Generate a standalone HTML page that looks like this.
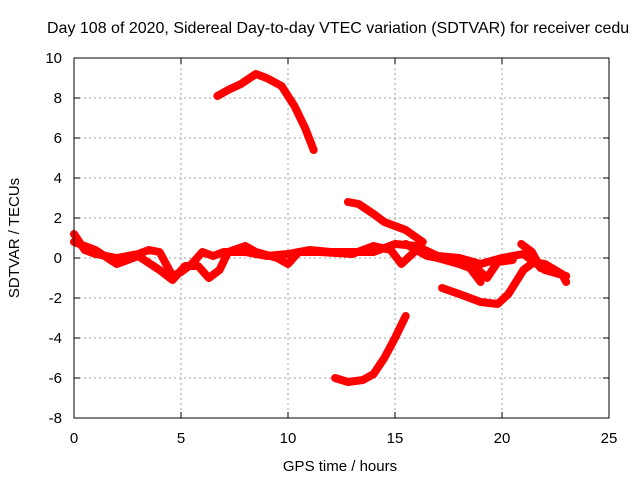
<!DOCTYPE html>
<html><head><meta charset="utf-8"><style>
body{margin:0;background:#fff;width:640px;height:480px;overflow:hidden}
text{font-family:"Liberation Sans",sans-serif;font-size:15px;fill:#000}
</style></head><body>
<svg id="c" width="640" height="480">
<text x="47" y="33" style="font-size:16px">Day 108 of 2020, Sidereal Day-to-day VTEC variation (SDTVAR) for receiver cedu</text>
<text x="340" y="471" text-anchor="middle">GPS time / hours</text>
<text transform="translate(19,238) rotate(-90)" text-anchor="middle">SDTVAR / TECUs</text>
<g id="grid"></g><g id="ticks"></g><g id="series"></g>
<rect x="74" y="58" width="535" height="360" fill="none" stroke="#000" stroke-width="1"/>
</svg>
<script>
const xTicks=[0,5,10,15,20,25];
const yTicks=[-8,-6,-4,-2,0,2,4,6,8,10];
const track1=[[6.7,8.1],[7.2,8.4],[7.8,8.7],[8.5,9.2],[9,9.0],[9.7,8.6],[10.3,7.6],[10.8,6.5],[11.2,5.4]];
const track2=[[12.8,2.8],[13.3,2.7],[14,2.2],[14.5,1.8],[15.5,1.4],[16.3,0.8]];
const track3=[[12.2,-6.0],[12.8,-6.2],[13.5,-6.1],[14,-5.8],[14.5,-5.0],[15,-4.0],[15.5,-2.9]];
const track4=[[0,1.2],[0.5,0.4],[1,0.2],[2,0],[3,0.2],[3.5,0.4],[4,0.3],[4.6,-0.9],[5,-0.7],[5.5,-0.3],[6,0.3],[6.5,0.1],[7,0.3],[8,0.3],[9,0.1],[10,0.2],[11,0.4],[12,0.3],[13,0.3],[14,0.3],[15,0.7],[16,0.6],[17,0.1],[18,0.0],[19,-0.3],[20,0.0],[21,0.2],[22,-0.6],[23,-0.9]];
const track5=[[0,0.8],[1,0.4],[2,-0.3],[3,0.1],[4,-0.6],[4.6,-1.1],[5.2,-0.4],[5.8,-0.4],[6.3,-1.0],[6.8,-0.6],[7.2,0.3],[8,0.6],[8.5,0.3],[9.5,0],[10,-0.3],[10.5,0.3],[11.5,0.3],[13,0.2],[14,0.6],[14.8,0.4],[15.3,-0.3],[16,0.4],[17,0],[18,-0.3],[18.8,-0.5],[19.3,-1.0],[19.8,-0.2],[20.5,-0.1]];
const track6=[[17.2,-1.5],[18,-1.8],[19,-2.2],[19.8,-2.3],[20.3,-1.8],[21,-0.6],[21.5,-0.2],[22,-0.3],[22.8,-0.8],[23,-1.2]];
const track7=[[20.9,0.7],[21.4,0.3],[21.8,-0.5],[22.5,-0.7]];
const track8=[[15.5,0.7],[16.5,0.1],[17.5,-0.1],[18.5,-0.5],[19,-1.2]];
const tracks=[track1,track2,track3,track4,track5,track6,track7,track8];
const X0=74,X1=609,Y0=418,Y1=58;
const sx=v=>X0+(v-0)/(25-0)*(X1-X0);
const sy=v=>Y0-(v+8)/(10+8)*(Y0-Y1);
const NS='http://www.w3.org/2000/svg';
const grid=document.getElementById('grid'),ticks=document.getElementById('ticks'),ser=document.getElementById('series');
function mk(tag,attrs,parent){const e=document.createElementNS(NS,tag);for(const k in attrs)e.setAttribute(k,attrs[k]);parent.appendChild(e);return e;}
xTicks.forEach(t=>{
 const x=sx(t);
 if(t>0&&t<25){const g=mk('line',{x1:x,x2:x,y1:Y1,y2:Y0,stroke:'#a0a0a0','stroke-dasharray':'2,3'},grid);
 
 }
 mk('line',{x1:x,x2:x,y1:Y0,y2:Y0-6,stroke:'#000'},ticks);
 mk('line',{x1:x,x2:x,y1:Y1,y2:Y1+6,stroke:'#000'},ticks);
 const l=mk('text',{x:x,y:Y0+25,'text-anchor':'middle'},ticks);l.textContent=t;
 
 
});
yTicks.forEach(t=>{
 const y=sy(t);
 if(t>-8&&t<10){const g=mk('line',{x1:X0,x2:X1,y1:y,y2:y,stroke:'#a0a0a0','stroke-dasharray':'2,3'},grid);
 
 }
 mk('line',{x1:X0,x2:X0+6,y1:y,y2:y,stroke:'#000'},ticks);
 mk('line',{x1:X1,x2:X1-6,y1:y,y2:y,stroke:'#000'},ticks);
 const l=mk('text',{x:X0-12,y:y+5,'text-anchor':'end'},ticks);l.textContent=t;
 
 
});
tracks.forEach((tr,i)=>{
 const p=mk('polyline',{points:tr.map(d=>sx(d[0])+','+sy(d[1])).join(' '),fill:'none',stroke:'#ff0000','stroke-width':8,'stroke-linejoin':'round','stroke-linecap':'round'},ser);
 
 
});
</script>
</body></html>
